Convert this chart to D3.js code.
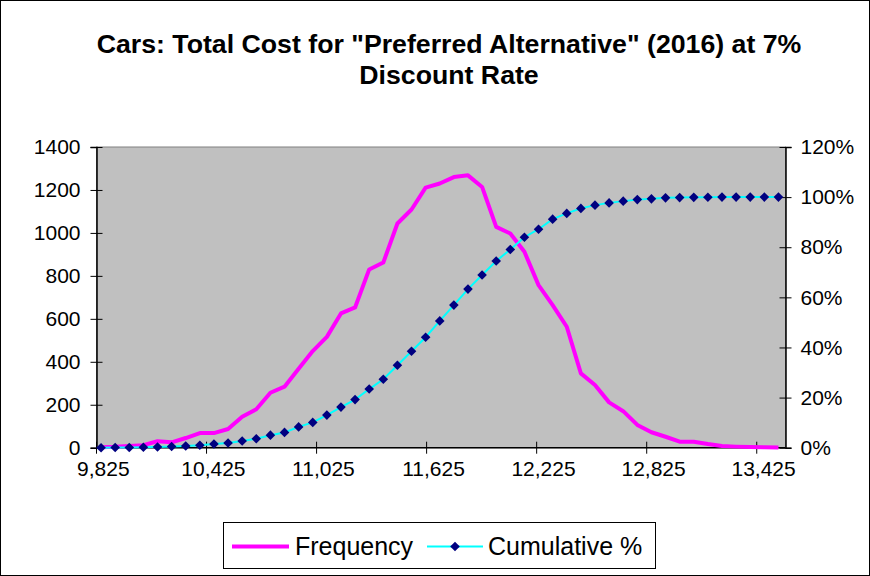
<!DOCTYPE html>
<html>
<head>
<meta charset="utf-8">
<script src="https://cdn.jsdelivr.net/npm/d3@7"></script>
<style>
body { margin:0; background:#fff; }
svg { display:block; font-family: Arial, "Liberation Sans", sans-serif; }
</style>
</head>
<body>
<svg id="chart" width="870" height="576"></svg>
<script>
// cost bins (category axis)
var costBins = [9825, 9900, 9975, 10050, 10125, 10200, 10275, 10350,
    10425, 10500, 10575, 10650, 10725, 10800, 10875, 10950,
    11025, 11100, 11175, 11250, 11325, 11400, 11475, 11550,
    11625, 11700, 11775, 11850, 11925, 12000, 12075, 12150,
    12225, 12300, 12375, 12450, 12525, 12600, 12675, 12750,
    12825, 12900, 12975, 13050, 13125, 13200, 13275, 13350,
    13425];
// frequency per bin (left axis)
var frequency = [2, 4, 8, 12, 30, 25, 45, 68, 68, 87,
    144, 179, 256, 284, 368, 450, 516, 625, 653, 830,
    862, 1044, 1109, 1211, 1230, 1260, 1268, 1214, 1028, 997,
    912, 757, 664, 563, 346, 292, 211, 170, 106, 72,
    51, 28, 28, 17, 8, 5, 3, 2, 1];
// cumulative percent (right axis)
var cumulative = [0, 0.05, 0.1, 0.2, 0.3, 0.45, 0.7, 1.0, 1.5, 1.9,
    2.7, 3.6, 5.0, 6.1, 8.3, 10.1, 13.0, 16.2, 19.2, 23.4,
    27.3, 32.9, 38.5, 44.1, 50.6, 56.9, 63.3, 68.9, 74.5, 79.1,
    84.0, 87.2, 91.2, 93.5, 95.5, 96.8, 97.7, 98.4, 99.0, 99.3,
    99.7, 99.8, 99.9, 99.95, 100, 100, 100, 100, 100];
var leftTicks = [0, 200, 400, 600, 800, 1000, 1200, 1400];
var rightTicks = [0, 20, 40, 60, 80, 100, 120];
var labelEvery = 8;

var svg = d3.select("#chart");
var plot = {left: 96.5, right: 785.5, top: 147, bottom: 447.7};

// chart border
svg.append("rect").attr("x", 0.5).attr("y", 0.5).attr("width", 869).attr("height", 575)
    .attr("fill", "#fff").attr("stroke", "#000").attr("stroke-width", 1);

// title
var title = svg.append("text").attr("text-anchor", "middle")
    .attr("font-size", "26.7px").attr("font-weight", "bold").attr("fill", "#000");
title.append("tspan").attr("x", 449).attr("y", 53).text('Cars: Total Cost for "Preferred Alternative" (2016) at 7%');
title.append("tspan").attr("x", 449).attr("y", 84).text("Discount Rate");

// scales
var x = d3.scaleBand().domain(costBins).range([94, plot.right]);
var xLab = d3.scaleBand().domain(costBins).range([plot.left, 770.5]); // excel's squeezed label axis
var yL = d3.scaleLinear().domain([0, 1400]).range([plot.bottom, plot.top]);
var yR = d3.scaleLinear().domain([0, 120]).range([plot.bottom, plot.top]);

// plot area
svg.append("rect").attr("x", plot.left).attr("y", plot.top)
    .attr("width", plot.right - plot.left).attr("height", plot.bottom - plot.top)
    .attr("fill", "#C0C0C0").attr("stroke", "#808080").attr("stroke-width", 1);

// left axis
var gL = svg.append("g").attr("transform", "translate(" + plot.left + ",0)")
    .call(d3.axisLeft(yL).tickValues(leftTicks).tickSize(6).tickFormat(d3.format("d")));
gL.select(".domain").attr("stroke", "#000").attr("stroke-width", 1.5);
gL.selectAll(".tick line").attr("x1", 6).attr("x2", -6).attr("stroke", "#000");
gL.selectAll(".tick text").attr("x", -16).attr("font-size", "21px")
    .attr("font-family", "Arial, 'Liberation Sans', sans-serif").attr("fill", "#000");

// right axis
var gR = svg.append("g").attr("transform", "translate(" + plot.right + ",0)")
    .call(d3.axisRight(yR).tickValues(rightTicks).tickSize(6).tickFormat(d => d + "%"));
gR.select(".domain").attr("stroke", "#000").attr("stroke-width", 1.5);
gR.selectAll(".tick line").attr("x1", -6).attr("x2", 6).attr("stroke", "#000");
gR.selectAll(".tick text").attr("x", 15).attr("font-size", "21px")
    .attr("font-family", "Arial, 'Liberation Sans', sans-serif").attr("fill", "#000");

// bottom axis
var labelled = costBins.filter((d, i) => i % labelEvery == 0);
var gB = svg.append("g");
gB.append("line").attr("x1", plot.left).attr("x2", plot.right)
    .attr("y1", plot.bottom).attr("y2", plot.bottom).attr("stroke", "#000").attr("stroke-width", 1.5);
gB.selectAll(".xtick").data(labelled).enter().append("line")
    .attr("x1", d => xLab(d)).attr("x2", d => xLab(d))
    .attr("y1", plot.bottom - 6).attr("y2", plot.bottom + 6).attr("stroke", "#000");
gB.selectAll(".xlab").data(labelled).enter().append("text")
    .attr("x", d => xLab(d) + xLab.bandwidth() / 2).attr("y", 476)
    .attr("text-anchor", "middle").attr("font-size", "21px").attr("fill", "#000")
    .text(d => d3.format(",")(d));

var cx = (d, i) => x(costBins[i]) + x.bandwidth() / 2;

// frequency line
svg.append("path").datum(frequency)
    .attr("d", d3.line().x(cx).y(d => yL(d)))
    .attr("fill", "none").attr("stroke", "#FF00FF").attr("stroke-width", 4)
    .attr("stroke-linejoin", "round");

// cumulative line + markers
var diamond = "M0,-4.8L4.8,0L0,4.8L-4.8,0Z";
svg.append("path").datum(cumulative)
    .attr("d", d3.line().x(cx).y(d => yR(d)))
    .attr("fill", "none").attr("stroke", "#00FFFF").attr("stroke-width", 2);
svg.selectAll(".mk").data(cumulative).enter().append("path")
    .attr("d", diamond)
    .attr("transform", (d, i) => "translate(" + cx(d, i) + "," + yR(d) + ")")
    .attr("fill", "#000080");

// legend
var lg = svg.append("g");
lg.append("rect").attr("x", 223.5).attr("y", 522.5).attr("width", 432).attr("height", 46)
    .attr("fill", "#fff").attr("stroke", "#000").attr("stroke-width", 1);
lg.append("line").attr("x1", 232).attr("x2", 289).attr("y1", 546.5).attr("y2", 546.5)
    .attr("stroke", "#FF00FF").attr("stroke-width", 4);
lg.append("text").attr("x", 295).attr("y", 555).attr("font-size", "25px").text("Frequency");
lg.append("line").attr("x1", 427).attr("x2", 483).attr("y1", 546.5).attr("y2", 546.5)
    .attr("stroke", "#00FFFF").attr("stroke-width", 2);
lg.append("path").attr("d", diamond).attr("transform", "translate(455,546.5)").attr("fill", "#000080");
lg.append("text").attr("x", 488).attr("y", 555).attr("font-size", "25px").text("Cumulative %");
</script>
</body>
</html>
